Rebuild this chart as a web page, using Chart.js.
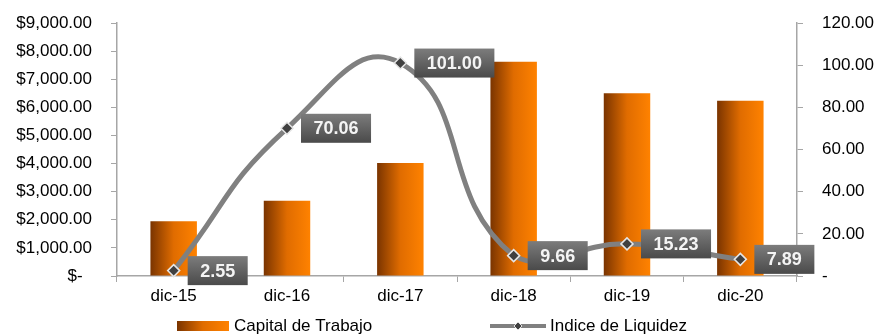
<!DOCTYPE html>
<html>
<head>
<meta charset="utf-8">
<script src="https://cdn.jsdelivr.net/npm/chart.js@4"></script>
<style>
  html, body { margin: 0; padding: 0; background: #fff; }
  #wrap { width: 880px; height: 336px; position: relative; }
</style>
</head>
<body>
<div id="wrap"><canvas id="grafico"></canvas></div>
<script>
const categories = ['dic-15', 'dic-16', 'dic-17', 'dic-18', 'dic-19', 'dic-20'];
const capitalTrabajo = [1950, 2680, 4020, 7620, 6500, 6230];
const indiceLiquidez = [2.55, 70.06, 101.00, 9.66, 15.23, 7.89];
const capitalTicks = { max: 9000, step: 1000 };
const liquidezTicks = { max: 120, step: 20 };
const seriesNames = ['Capital de Trabajo', 'Indice de Liquidez'];

const FONT = '"Liberation Sans", Arial, sans-serif';
const BAR_PCT = 0.41;

function barGradient(ctx, x0, x1) {
    const g = ctx.createLinearGradient(x0, 0, x1, 0);
    g.addColorStop(0, '#7a3400');
    g.addColorStop(0.5, '#e06c00');
    g.addColorStop(1, '#ff8200');
    return g;
}

function money(v) {
    if (v === 0) return '$-  ';
    return '$' + v.toLocaleString('en-US', { minimumFractionDigits: 2, maximumFractionDigits: 2 });
}

// etiquetas de valor en cajas grises
const etiquetasPlugin = {
    id: 'etiquetas',
    afterDatasetsDraw(chart) {
        const ctx = chart.ctx;
        const meta = chart.getDatasetMeta(1);
        ctx.save();
        ctx.font = 'bold 18px ' + FONT;
        ctx.textBaseline = 'middle';
        meta.data.forEach((pt, i) => {
            const txt = indiceLiquidez[i].toFixed(2);
            const w = ctx.measureText(txt).width + 25;
            const h = 29;
            const bx = pt.x + 14;
            const by = pt.y - h / 2;
            const g = ctx.createLinearGradient(0, by, 0, by + h);
            g.addColorStop(0, '#7c7c7c');
            g.addColorStop(1, '#4a4a4a');
            ctx.fillStyle = g;
            ctx.fillRect(bx, by, w, h);
            ctx.fillStyle = '#f4f4f4';
            ctx.textAlign = 'center';
            ctx.fillText(txt, bx + w / 2, pt.y + 1);
        });
        ctx.restore();
    }
};

// leyenda inferior
const leyendaPlugin = {
    id: 'leyenda',
    afterDraw(chart) {
        const ctx = chart.ctx;
        const y = 326;
        ctx.save();
        ctx.fillStyle = barGradient(ctx, 177, 229);
        ctx.fillRect(177, y - 5, 52, 10);
        ctx.strokeStyle = '#808080';
        ctx.lineWidth = 4;
        ctx.beginPath();
        ctx.moveTo(490, y);
        ctx.lineTo(546, y);
        ctx.stroke();
        ctx.fillStyle = '#404040';
        ctx.strokeStyle = '#e0e0e0';
        ctx.lineWidth = 1;
        ctx.beginPath();
        ctx.moveTo(518, y - 4);
        ctx.lineTo(522, y);
        ctx.lineTo(518, y + 4);
        ctx.lineTo(514, y);
        ctx.closePath();
        ctx.fill();
        ctx.stroke();
        ctx.font = '17px ' + FONT;
        ctx.fillStyle = '#000';
        ctx.textAlign = 'left';
        ctx.textBaseline = 'middle';
        ctx.fillText(seriesNames[0], 234, y);
        ctx.fillText(seriesNames[1], 550, y);
        ctx.restore();
    }
};

new Chart(document.getElementById('grafico'), {
    data: {
        labels: categories,
        datasets: [{
            type: 'bar',
            label: seriesNames[0],
            data: capitalTrabajo,
            yAxisID: 'y',
            order: 2,
            categoryPercentage: 1,
            barPercentage: BAR_PCT,
            backgroundColor(c) {
                const chart = c.chart;
                const xs = chart.scales.x;
                if (!chart.chartArea || !xs) return '#e06c00';
                const cx = xs.getPixelForValue(c.dataIndex);
                const half = xs.width / categories.length * BAR_PCT / 2;
                return barGradient(chart.ctx, cx - half, cx + half);
            },
            borderWidth: 0
        }, {
            type: 'line',
            label: seriesNames[1],
            data: indiceLiquidez,
            yAxisID: 'y1',
            order: 1,
            borderColor: '#808080',
            borderWidth: 5,
            tension: 0.5,
            pointStyle: 'rectRot',
            pointRadius: 6,
            pointBackgroundColor: '#404040',
            pointBorderColor: '#e6e6e6',
            pointBorderWidth: 1.5,
            clip: false
        }]
    },
    options: {
        responsive: true,
        maintainAspectRatio: false,
        animation: false,
        layout: { padding: { top: 23, bottom: 24, left: 0, right: 0 } },
        plugins: {
            legend: { display: false },
            tooltip: { enabled: false }
        },
        scales: {
            x: {
                offset: true,
                grid: { display: true, drawOnChartArea: false, offset: true, tickLength: 6, color: '#a6a6a6' },
                border: { color: '#a6a6a6', width: 1.5 },
                ticks: { color: '#000', font: { family: FONT, size: 17 }, padding: 4, maxRotation: 0 },
                afterFit(axis) { axis.height = 36; axis.paddingLeft = 0; axis.paddingRight = 0; }
            },
            y: {
                position: 'left',
                min: 0,
                max: capitalTicks.max,
                grid: { display: true, drawOnChartArea: false, tickLength: 6, color: '#a6a6a6' },
                border: { color: '#a6a6a6', width: 1.5 },
                ticks: {
                    stepSize: capitalTicks.step,
                    color: '#000',
                    font: { family: FONT, size: 17 },
                    padding: 19,
                    callback: v => money(v)
                },
                afterFit(axis) { axis.width = 117; axis.paddingTop = 0; axis.paddingBottom = 0; }
            },
            y1: {
                position: 'right',
                min: 0,
                max: liquidezTicks.max,
                grid: { display: true, drawOnChartArea: false, tickLength: 6, color: '#a6a6a6' },
                border: { color: '#a6a6a6', width: 1.5 },
                ticks: {
                    stepSize: liquidezTicks.step,
                    color: '#000',
                    font: { family: FONT, size: 17 },
                    padding: 19,
                    callback: v => v === 0 ? '-' : v.toFixed(2)
                },
                afterFit(axis) { axis.width = 83; axis.paddingTop = 0; axis.paddingBottom = 0; }
            }
        }
    },
    plugins: [etiquetasPlugin, leyendaPlugin]
});
</script>
</body>
</html>
